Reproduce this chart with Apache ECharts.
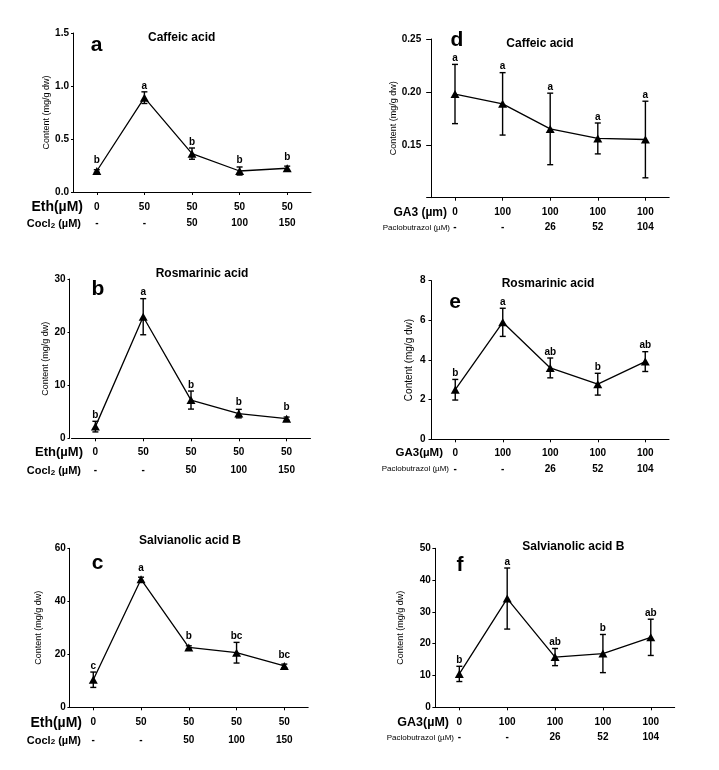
<!DOCTYPE html>
<html><head><meta charset="utf-8">
<script src="https://cdn.jsdelivr.net/npm/echarts@6/dist/echarts.min.js"></script>
<style>html,body{margin:0;padding:0;background:#fff}#c{width:719px;height:770px}</style>
</head><body><div id="c"></div>
<script>
// ---- category rows ----
const ethRow = ['0', '50', '50', '50', '50'];
const cocl2Row = ['-', '-', '50', '100', '150'];
const ga3Row = ['0', '100', '100', '100', '100'];
const pacloRow = ['-', '-', '26', '52', '104'];

// ---- series values (mean, error) ----
const caffeicEthMean = [0.198, 0.89, 0.362, 0.198, 0.224];
const caffeicEthErr = [0.012, 0.055, 0.053, 0.038, 0.02];
const caffeicEthSig = ['b', 'a', 'b', 'b', 'b'];

const rosEthMean = [2.2, 22.9, 7.2, 4.65, 3.7];
const rosEthErr = [1.0, 3.4, 1.7, 0.8, 0.3];
const rosEthSig = ['b', 'a', 'b', 'b', 'b'];

const salEthMean = [10.4, 48.3, 22.6, 20.6, 15.6];
const salEthErr = [2.9, 0.8, 0.6, 3.9, 0.7];
const salEthSig = ['c', 'a', 'b', 'bc', 'bc'];

const caffeicGaMean = [0.198, 0.1887, 0.165, 0.156, 0.155];
const caffeicGaErr = [0.028, 0.0295, 0.0338, 0.0146, 0.0362];
const caffeicGaSig = ['a', 'a', 'a', 'a', 'a'];

const rosGaMean = [2.5, 5.9, 3.6, 2.78, 3.92];
const rosGaErr = [0.52, 0.71, 0.5, 0.55, 0.5];
const rosGaSig = ['b', 'a', 'ab', 'b', 'ab'];

const salGaMean = [10.5, 34.2, 15.8, 16.9, 22.0];
const salGaErr = [2.4, 9.6, 2.7, 6.0, 5.7];
const salGaSig = ['b', 'a', 'ab', 'b', 'ab'];

// ---- y axis ticks ----
const yA = {min: 0, max: 1.5, interval: 0.5};
const yB = {min: 0, max: 30, interval: 10};
const yC = {min: 0, max: 60, interval: 20};
const yD = {min: 0.10, max: 0.25, interval: 0.05};
const yE = {min: 0, max: 8, interval: 2};
const yF = {min: 0, max: 50, interval: 10};

const FF = "'Liberation Sans', Arial, sans-serif";

const panels = [
  {grid: {left: 73, top: 33, width: 238, height: 159}, y: yA, fmt: v => v.toFixed(1),
   yOff: 0, yMargin: 4, yTick: 2, nameGap: 21.5, nameSize: 9,
   r1: ethRow, r2: cocl2Row, lh: 16.6, xMargin: 6.7,
   mean: caffeicEthMean, err: caffeicEthErr, sig: caffeicEthSig,
   title: 'Caffeic acid', tx: 181.7, ty: 37.3, letter: 'a', lx: 96.7, ly: 45,
   h1: 'Eth(µM)', h1x: 83, h1y: 206.7, h1s: 14, h2: 'cocl', h2x: 81, h2y: 223.3},
  {grid: {left: 71.5, top: 279, width: 239, height: 159.3}, y: yB, fmt: v => String(v),
   yOff: 2, yMargin: 4, yTick: 2, nameGap: 18, nameSize: 9,
   r1: ethRow, r2: cocl2Row, lh: 18, xMargin: 5.4,
   mean: rosEthMean, err: rosEthErr, sig: rosEthSig,
   title: 'Rosmarinic acid', tx: 202, ty: 273.3, letter: 'b', lx: 98, ly: 289,
   h1: 'Eth(µM)', h1x: 83, h1y: 452.7, h1s: 13, h2: 'cocl', h2x: 81, h2y: 470.7},
  {grid: {left: 69.4, top: 548.3, width: 238.8, height: 159}, y: yC, fmt: v => String(v),
   yOff: 0, yMargin: 3.5, yTick: 2, nameGap: 26.5, nameSize: 9,
   r1: ethRow, r2: cocl2Row, lh: 17.3, xMargin: 6.75,
   mean: salEthMean, err: salEthErr, sig: salEthSig,
   title: 'Salvianolic acid B', tx: 190, ty: 540.7, letter: 'c', lx: 97.7, ly: 563.5,
   h1: 'Eth(µM)', h1x: 82, h1y: 722.7, h1s: 14, h2: 'cocl', h2x: 81, h2y: 740},
  {grid: {left: 431.2, top: 39, width: 238, height: 158.7}, y: yD, fmt: v => (v < 0.12 ? '' : v.toFixed(2)),
   yOff: 0, yMargin: 10, yTick: 5, nameGap: 29.5, nameSize: 9,
   r1: ga3Row, r2: pacloRow, lh: 15.4, xMargin: 6.9,
   mean: caffeicGaMean, err: caffeicGaErr, sig: caffeicGaSig,
   title: 'Caffeic acid', tx: 540, ty: 44, letter: 'd', lx: 457, ly: 40.7,
   h1: 'GA3 (µm)', h1x: 447, h1y: 212.3, h1s: 12, h2: 'paclo', h2x: 450, h2y: 227.7},
  {grid: {left: 431.5, top: 280.7, width: 237.5, height: 158.6}, y: yE, fmt: v => String(v),
   yOff: 0, yMargin: 6, yTick: 3, nameGap: 17.7, nameSize: 10,
   r1: ga3Row, r2: pacloRow, lh: 15.7, xMargin: 6.15,
   mean: rosGaMean, err: rosGaErr, sig: rosGaSig,
   title: 'Rosmarinic acid', tx: 548, ty: 283.3, letter: 'e', lx: 455, ly: 302.3,
   h1: 'GA3(µM)', h1x: 443, h1y: 453.3, h1s: 11.5, h2: 'paclo', h2x: 449, h2y: 469},
  {grid: {left: 435.4, top: 548.3, width: 239.3, height: 159}, y: yF, fmt: v => String(v),
   yOff: 0, yMargin: 4.5, yTick: 3, nameGap: 30, nameSize: 9,
   r1: ga3Row, r2: pacloRow, lh: 15, xMargin: 7.9,
   mean: salGaMean, err: salGaErr, sig: salGaSig,
   title: 'Salvianolic acid B', tx: 573.3, ty: 546.7, letter: 'f', lx: 460, ly: 565,
   h1: 'GA3(µM)', h1x: 449, h1y: 722.7, h1s: 12.5, h2: 'paclo', h2x: 454, h2y: 737.7}
];

const grids = [], xAxes = [], yAxes = [], series = [], graphics = [];
const axisLine = {show: true, lineStyle: {color: '#000', width: 1}};

panels.forEach((p, k) => {
  grids.push(Object.assign({containLabel: false}, p.grid));
  const row2 = p.r2;
  xAxes.push({
    type: 'category', gridIndex: k, data: p.r1, boundaryGap: true,
    axisLine: axisLine,
    axisTick: {show: true, alignWithLabel: true, length: 3, lineStyle: {color: '#000'}},
    axisLabel: {
      interval: 0, margin: p.xMargin,
      formatter: (v, i) => '{r1|' + v + '}\n{r2|' + row2[i] + '}',
      rich: {
        r1: {fontFamily: FF, fontSize: 10, fontWeight: 'bold', color: '#000', lineHeight: p.lh},
        r2: {fontFamily: FF, fontSize: 10, fontWeight: 'bold', color: '#000', lineHeight: p.lh}
      }
    },
    splitLine: {show: false}
  });
  yAxes.push({
    type: 'value', gridIndex: k, min: p.y.min, max: p.y.max, interval: p.y.interval,
    offset: p.yOff,
    axisLine: axisLine,
    axisTick: {show: true, length: p.yTick, lineStyle: {color: '#000'}},
    axisLabel: {margin: p.yMargin, formatter: p.fmt, fontFamily: FF, fontSize: 10, fontWeight: 'bold', color: '#000'},
    splitLine: {show: false},
    name: 'Content (mg/g dw)', nameLocation: 'middle', nameGap: p.nameGap,
    nameTextStyle: {fontFamily: FF, fontSize: p.nameSize, color: '#000'}
  });
  const sig = p.sig;
  series.push({
    type: 'custom', xAxisIndex: k, yAxisIndex: k,
    data: p.mean.map((m, i) => [i, m, p.err[i]]),
    encode: {x: 0, y: 1},
    z: 4,
    renderItem: (params, api) => {
      const i = api.value(0), m = api.value(1), e = api.value(2);
      const top = api.coord([i, m + e]);
      const bot = api.coord([i, m - e]);
      const mid = api.coord([i, m]);
      const x = top[0], w = 3;
      const ls = {stroke: '#000', lineWidth: 1.4};
      const ty = Math.min(top[1], mid[1] - 5) - 1;
      return {type: 'group', children: [
        {type: 'line', shape: {x1: x, y1: top[1], x2: x, y2: bot[1]}, style: ls},
        {type: 'line', shape: {x1: x - w, y1: top[1], x2: x + w, y2: top[1]}, style: ls},
        {type: 'line', shape: {x1: x - w, y1: bot[1], x2: x + w, y2: bot[1]}, style: ls},
        {type: 'text', style: {text: sig[params.dataIndex], x: x, y: ty, align: 'center', verticalAlign: 'bottom',
          fontFamily: FF, fontSize: 10, fontWeight: 'bold', fill: '#000'}}
      ]};
    }
  });
  series.push({
    type: 'line', xAxisIndex: k, yAxisIndex: k, data: p.mean,
    symbol: 'triangle', symbolSize: [9, 8], z: 3,
    itemStyle: {color: '#000'}, lineStyle: {color: '#000', width: 1.3}
  });
  graphics.push({type: 'text', x: p.tx, y: p.ty, style: {text: p.title, align: 'center', verticalAlign: 'middle',
    fontFamily: FF, fontSize: 12, fontWeight: 'bold', fill: '#000'}});
  graphics.push({type: 'text', x: p.lx, y: p.ly, style: {text: p.letter, align: 'center', verticalAlign: 'middle',
    fontFamily: FF, fontSize: 21, fontWeight: 'bold', fill: '#000'}});
  graphics.push({type: 'text', x: p.h1x, y: p.h1y, style: {text: p.h1, align: 'right', verticalAlign: 'middle',
    fontFamily: FF, fontSize: p.h1s, fontWeight: 'bold', fill: '#000'}});
  if (p.h2 === 'cocl') {
    graphics.push({type: 'text', x: p.h2x, y: p.h2y, style: {
      text: '{n|Cocl}{s|2}{n| (µM)}', align: 'right', verticalAlign: 'middle', fill: '#000',
      rich: {
        n: {fontFamily: FF, fontSize: 11, fontWeight: 'bold', lineHeight: 12, verticalAlign: 'bottom', fill: '#000'},
        s: {fontFamily: FF, fontSize: 8, fontWeight: 'bold', lineHeight: 5, verticalAlign: 'bottom', fill: '#000'}
      }}});
  } else {
    graphics.push({type: 'text', x: p.h2x, y: p.h2y, style: {text: 'Paclobutrazol (µM)', align: 'right', verticalAlign: 'middle',
      fontFamily: FF, fontSize: 8, fill: '#000'}});
  }
});

const chart = echarts.init(document.getElementById('c'), null, {renderer: 'canvas'});
chart.setOption({
  animation: false,
  backgroundColor: '#fff',
  grid: grids, xAxis: xAxes, yAxis: yAxes, series: series,
  graphic: graphics
});
</script>
</body></html>
